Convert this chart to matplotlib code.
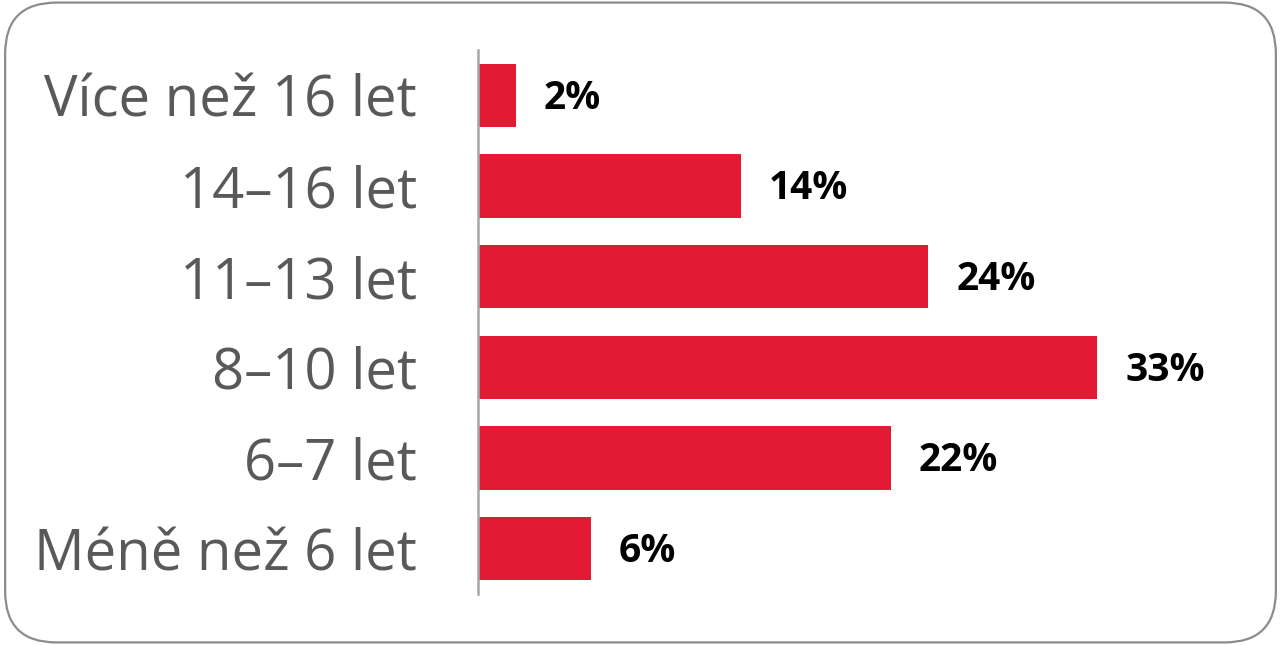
import matplotlib.pyplot as plt
from matplotlib.patches import FancyBboxPatch

# categories from bottom to top
categories = ['Méně než 6 let', '6–7 let', '8–10 let', '11–13 let', '14–16 let', 'Více než 16 let']
values = [6, 22, 33, 24, 14, 2]

bar_color = '#E31A33'
label_color = '#595959'

fig = plt.figure(figsize=(12.81, 6.45), dpi=100)

# rounded frame around the whole chart
frame = FancyBboxPatch((0.004, 0.004), 0.992, 0.992,
                       boxstyle='round,pad=0,rounding_size=0.04',
                       transform=fig.transFigure, facecolor='none',
                       edgecolor='#8C8C8C', linewidth=1.6,
                       mutation_aspect=1281 / 645, zorder=-1)
fig.patches.append(frame)

ax = fig.add_axes([478 / 1281, 1 - 594 / 645, (1240 - 478) / 1281, 544 / 645])
ax.patch.set_visible(False)

y = range(len(categories))
ax.barh(y, values, height=0.7, color=bar_color)

for yi, v in zip(y, values):
    ax.annotate(f'{v}%', (v, yi), xytext=(20, -2), textcoords='offset points',
                va='center', ha='left', fontsize=28, fontweight='bold',
                color='black', family='Open Sans')

ax.set_ylim(-0.5, len(categories) - 0.5)
ax.set_xlim(0, 40.6)
ax.set_yticks(list(y))
ax.set_yticklabels(categories, fontsize=40.5, color=label_color, family='Open Sans')
ax.tick_params(axis='y', length=0, pad=44)
ax.set_xticks([])

for side in ['top', 'right', 'bottom']:
    ax.spines[side].set_visible(False)
ax.spines['left'].set_color('#A6A6A6')
ax.spines['left'].set_linewidth(1.8)

fig.savefig('out.png', dpi=100)
